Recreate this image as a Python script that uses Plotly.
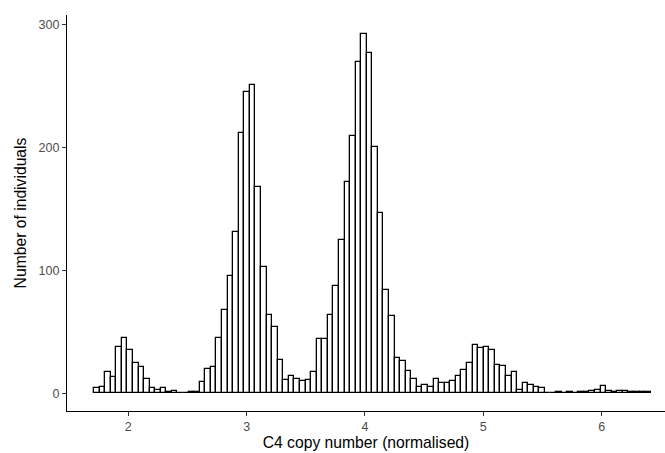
import plotly.graph_objects as go

# Histogram: 100 bins over the normalised C4 copy number
bin_start = 1.710
bin_width = 0.04704
counts = [
    4, 5, 17, 13, 38, 45, 35, 25, 21, 12,
    4, 3, 4, 1, 2, 0, 0, 1, 1, 9,
    20, 21, 45, 68, 95, 131, 212, 245, 251, 168,
    103, 64, 54, 27, 11, 14, 12, 10, 11, 17,
    44, 44, 64, 87, 125, 172, 209, 269, 292, 277,
    200, 147, 84, 63, 29, 26, 18, 12, 5, 7,
    5, 12, 8, 8, 10, 14, 19, 25, 39, 37,
    38, 35, 23, 22, 14, 17, 3, 8, 7, 5,
    4, 0, 0, 1, 0, 1, 0, 1, 1, 2,
    3, 6, 2, 1, 2, 2, 1, 1, 1, 1,
]
centers = [bin_start + (i + 0.5) * bin_width for i in range(len(counts))]

x_ticks = [2, 3, 4, 5, 6]
y_ticks = [0, 100, 200, 300]

fig = go.Figure(go.Bar(
    x=centers, y=counts, width=bin_width,
    marker=dict(color="white", line=dict(color="black", width=1.3)),
))

axis_font = dict(family="Liberation Sans, Arial, sans-serif", size=12.5, color="#4d4d4d")
title_font = dict(family="Liberation Sans, Arial, sans-serif", size=15.7, color="black")

fig.update_layout(
    width=665, height=453,
    margin=dict(l=67, r=0, t=15, b=42),
    paper_bgcolor="white", plot_bgcolor="white",
    showlegend=False, bargap=0,
    xaxis=dict(
        range=[1.482, 6.535], tickvals=x_ticks, ticktext=[str(v) for v in x_ticks],
        showline=True, linecolor="black", linewidth=1.1, mirror=False,
        ticks="outside", ticklen=4, tickcolor="#333333", tickwidth=1.1,
        showgrid=False, zeroline=False, tickfont=axis_font,
        title=dict(text="C4 copy number (normalised)", font=title_font, standoff=0),
        automargin=False,
    ),
    yaxis=dict(
        range=[-14.4, 307.6], tickvals=y_ticks, ticktext=[str(v) for v in y_ticks],
        showline=True, linecolor="black", linewidth=1.1, mirror=False,
        ticks="outside", ticklen=4, tickcolor="#333333", tickwidth=1.1,
        showgrid=False, zeroline=False, tickfont=axis_font,
        title=dict(text="Number of individuals", font=title_font, standoff=8),
        automargin=False,
    ),
)

fig.write_html("out.html", config={"displayModeBar": False},
               post_script="document.body.style.margin='0';")
